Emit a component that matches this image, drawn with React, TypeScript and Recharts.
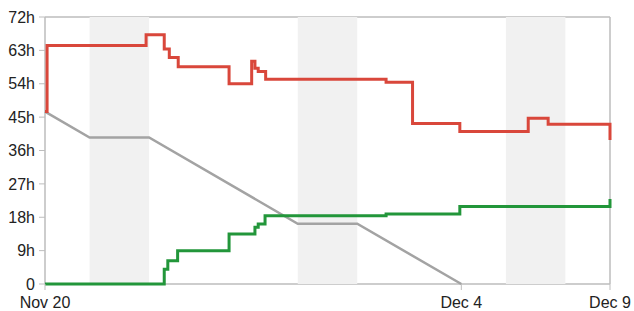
import { LineChart, Line, XAxis, YAxis, ReferenceArea, CartesianGrid } from "recharts";

// days counted from Nov 20
const xTicks = [0, 14, 19];
const xTickLabels: Record<number, string> = { 0: "Nov 20", 14: "Dec 4", 19: "Dec 9" };
const yTicks = [0, 9, 18, 27, 36, 45, 54, 63, 72];

const weekendStarts = [1.5, 8.5, 15.5];
const weekendEnds = [3.5, 10.5, 17.5];

const idealDays = [0, 1.5, 3.5, 8.5, 10.5, 14];
const idealHours = [46.5, 39.5, 39.5, 16.25, 16.25, 0];

const remainingDays = [0, 0.07, 3.4, 4.01, 4.18, 4.48, 6.19, 6.95, 7.06, 7.17, 7.42, 11.47, 12.36, 13.95, 16.25, 16.92, 19];
const remainingHours = [46.5, 64.3, 67.2, 63.4, 61.1, 58.6, 54.0, 60.1, 58.2, 57.3, 55.2, 54.4, 43.3, 41.1, 44.7, 43.1, 38.8];

const doneDays = [0, 4.01, 4.13, 4.46, 6.19, 7.06, 7.17, 7.4, 11.47, 13.95, 19];
const doneHours = [0, 4.0, 6.3, 9.0, 13.5, 15.3, 16.2, 18.4, 18.9, 20.9, 22.9];

const toPoints = (days: number[], hours: number[]) => days.map((day, i) => ({ day, hours: hours[i] }));

const AXIS_COLOR = "#bdbdbd";
const TICK_STYLE = { fontSize: 16, fontFamily: "Liberation Sans, Arial, sans-serif", fill: "#222" };

export default function App() {
  return (
    <div style={{ position: "absolute", left: 0, top: 0, width: 634, height: 311 }}>
      <LineChart width={634} height={311} margin={{ top: 17, right: 24, bottom: 0, left: 0 }}>
        {weekendStarts.map((x1, i) => (
          <ReferenceArea key={x1} x1={x1} x2={weekendEnds[i]} y1={0} y2={72} fill="#f1f1f1" fillOpacity={1} stroke="none" />
        ))}
        {/* plot frame drawn as a grid so it stays beneath the series */}
        <CartesianGrid
          stroke={AXIS_COLOR}
          strokeWidth={1.5}
          horizontalCoordinatesGenerator={({ offset }: any) => [offset.top, offset.top + offset.height]}
          verticalCoordinatesGenerator={({ offset }: any) => [offset.left, offset.left + offset.width]}
        />
        <XAxis
          dataKey="day"
          type="number"
          domain={[0, 19]}
          ticks={xTicks}
          allowDuplicatedCategory={false}
          tickFormatter={(v) => xTickLabels[v] ?? ""}
          stroke={AXIS_COLOR}
          axisLine={false}
          tickSize={6}
          tickMargin={7}
          height={27}
          tick={TICK_STYLE}
          interval={0}
        />
        <YAxis
          type="number"
          domain={[0, 72]}
          ticks={yTicks}
          tickFormatter={(v) => (v === 0 ? "0" : `${v}h`)}
          stroke={AXIS_COLOR}
          axisLine={false}
          tickSize={6}
          tickMargin={4}
          width={45}
          tick={TICK_STYLE}
          interval={0}
        />
        <Line
          data={toPoints(idealDays, idealHours)}
          dataKey="hours"
          type="linear"
          stroke="#a3a3a3"
          strokeWidth={2.5}
          dot={false}
          isAnimationActive={false}
        />
        <Line
          data={toPoints(doneDays, doneHours)}
          dataKey="hours"
          type="stepAfter"
          stroke="#22963a"
          strokeWidth={3}
          dot={false}
          isAnimationActive={false}
        />
        <Line
          data={toPoints(remainingDays, remainingHours)}
          dataKey="hours"
          type="stepAfter"
          stroke="#d9473b"
          strokeWidth={3}
          dot={false}
          isAnimationActive={false}
        />
      </LineChart>
    </div>
  );
}
